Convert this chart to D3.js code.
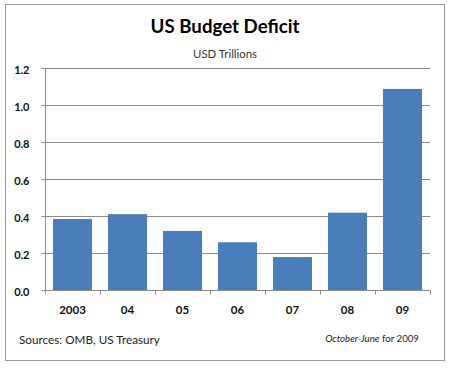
<!DOCTYPE html>
<html><head><meta charset="utf-8">
<script src="https://cdn.jsdelivr.net/npm/d3@7"></script>
<style>
html,body{margin:0;padding:0;background:#fff;}
svg{display:block;}
text{font-family:Lato,"Open Sans",sans-serif;}
</style></head>
<body>
<svg id="c" width="450" height="368"></svg>
<script>
const categories = ["2003","04","05","06","07","08","09"];
const values = [0.384, 0.41, 0.319, 0.258, 0.178, 0.418, 1.087];
const yTicks = [0, 0.2, 0.4, 0.6, 0.8, 1.0, 1.2];
const title = "US Budget Deficit";
const subtitle = "USD Trillions";
const sourceNote = "Sources: OMB, US Treasury";

const svg = d3.select("#c");
const plot = {left: 45, right: 430, top: 68, bottom: 290};

// frame
svg.append("rect").attr("x",5.5).attr("y",4.5).attr("width",439).attr("height",356)
  .attr("fill","#fff").attr("stroke","#9a9a9a").attr("stroke-width",1);

const x = d3.scaleBand().domain(categories).range([plot.left, plot.right]).paddingInner(0.29).paddingOuter(0.145);
const xb = d3.scaleBand().domain(categories).range([plot.left, plot.right]);
const y = d3.scaleLinear().domain([0,1.2]).range([plot.bottom, plot.top]);

function fit(sel, target){
  const w = sel.node().getComputedTextLength();
  const fs = parseFloat(sel.attr("font-size"));
  sel.attr("font-size", fs*target/w);
}

// gridlines
svg.append("g").selectAll("line").data(yTicks.filter(d=>d>0)).join("line")
  .attr("x1",plot.left).attr("x2",plot.right)
  .attr("y1",d=>Math.round(y(d))+0.5).attr("y2",d=>Math.round(y(d))+0.5)
  .attr("stroke","#8c8c8c").attr("stroke-width",1);

// bars
svg.append("g").selectAll("rect").data(values).join("rect")
  .attr("x",(d,i)=>x(categories[i]))
  .attr("width",x.bandwidth())
  .attr("y",d=>y(d))
  .attr("height",d=>y(0)-y(d))
  .attr("fill","#4a7ebb");

// y axis
const yAxis = d3.axisLeft(y).tickValues(yTicks).tickFormat(d3.format(".1f")).tickSize(4).tickPadding(8);
const gy = svg.append("g").attr("transform",`translate(${plot.left+0.5},0.5)`).call(yAxis);
gy.select(".domain").attr("stroke","#8c8c8c").attr("d",`M-4,${Math.round(y(1.2))}H0V${Math.round(y(0))}`);
gy.selectAll(".tick").attr("transform",d=>`translate(0,${Math.round(y(d))})`);
gy.selectAll(".tick line").attr("stroke","#8c8c8c");
gy.selectAll(".tick text").attr("font-size",11).attr("font-weight","bold").attr("fill","#111")
  .attr("font-family","Lato,sans-serif").attr("dy","0.5em").attr("x",-16);

// x axis
const gx = svg.append("g").attr("transform",`translate(0,${Math.round(y(0))+0.5})`);
gx.append("line").attr("x1",plot.left).attr("x2",plot.right).attr("stroke","#8c8c8c");
gx.selectAll("line.t").data(categories.concat(["end"])).join("line").attr("class","t")
  .attr("x1",(d,i)=>Math.round(plot.left + i*xb.bandwidth())+0.5)
  .attr("x2",(d,i)=>Math.round(plot.left + i*xb.bandwidth())+0.5)
  .attr("y1",0).attr("y2",4).attr("stroke","#8c8c8c");
gx.selectAll("text").data(categories).join("text")
  .attr("x",d=>xb(d)+xb.bandwidth()/2).attr("y",23)
  .attr("text-anchor","middle").attr("font-size",11.5).attr("font-weight","bold").attr("fill","#111")
  .text(d=>d);

// titles
const t = svg.append("text").attr("x",225).attr("y",33).attr("text-anchor","middle")
  .attr("font-size",20).attr("font-weight","bold").attr("fill","#000").text(title);
fit(t,149);
const st = svg.append("text").attr("x",225).attr("y",57.5).attr("text-anchor","middle")
  .attr("font-size",11).attr("fill","#333").text(subtitle);
fit(st,64);

const src = svg.append("text").attr("x",19).attr("y",344)
  .attr("font-size",12).attr("fill","#222").text(sourceNote);
fit(src,141);

const note = svg.append("text").attr("x",419).attr("y",342).attr("text-anchor","end")
  .attr("font-size",9.7).attr("fill","#222").attr("font-family","'Open Sans',sans-serif");
note.append("tspan").attr("font-style","italic").text("October-June");
note.append("tspan").text(" for 2009");
</script>
</body></html>
